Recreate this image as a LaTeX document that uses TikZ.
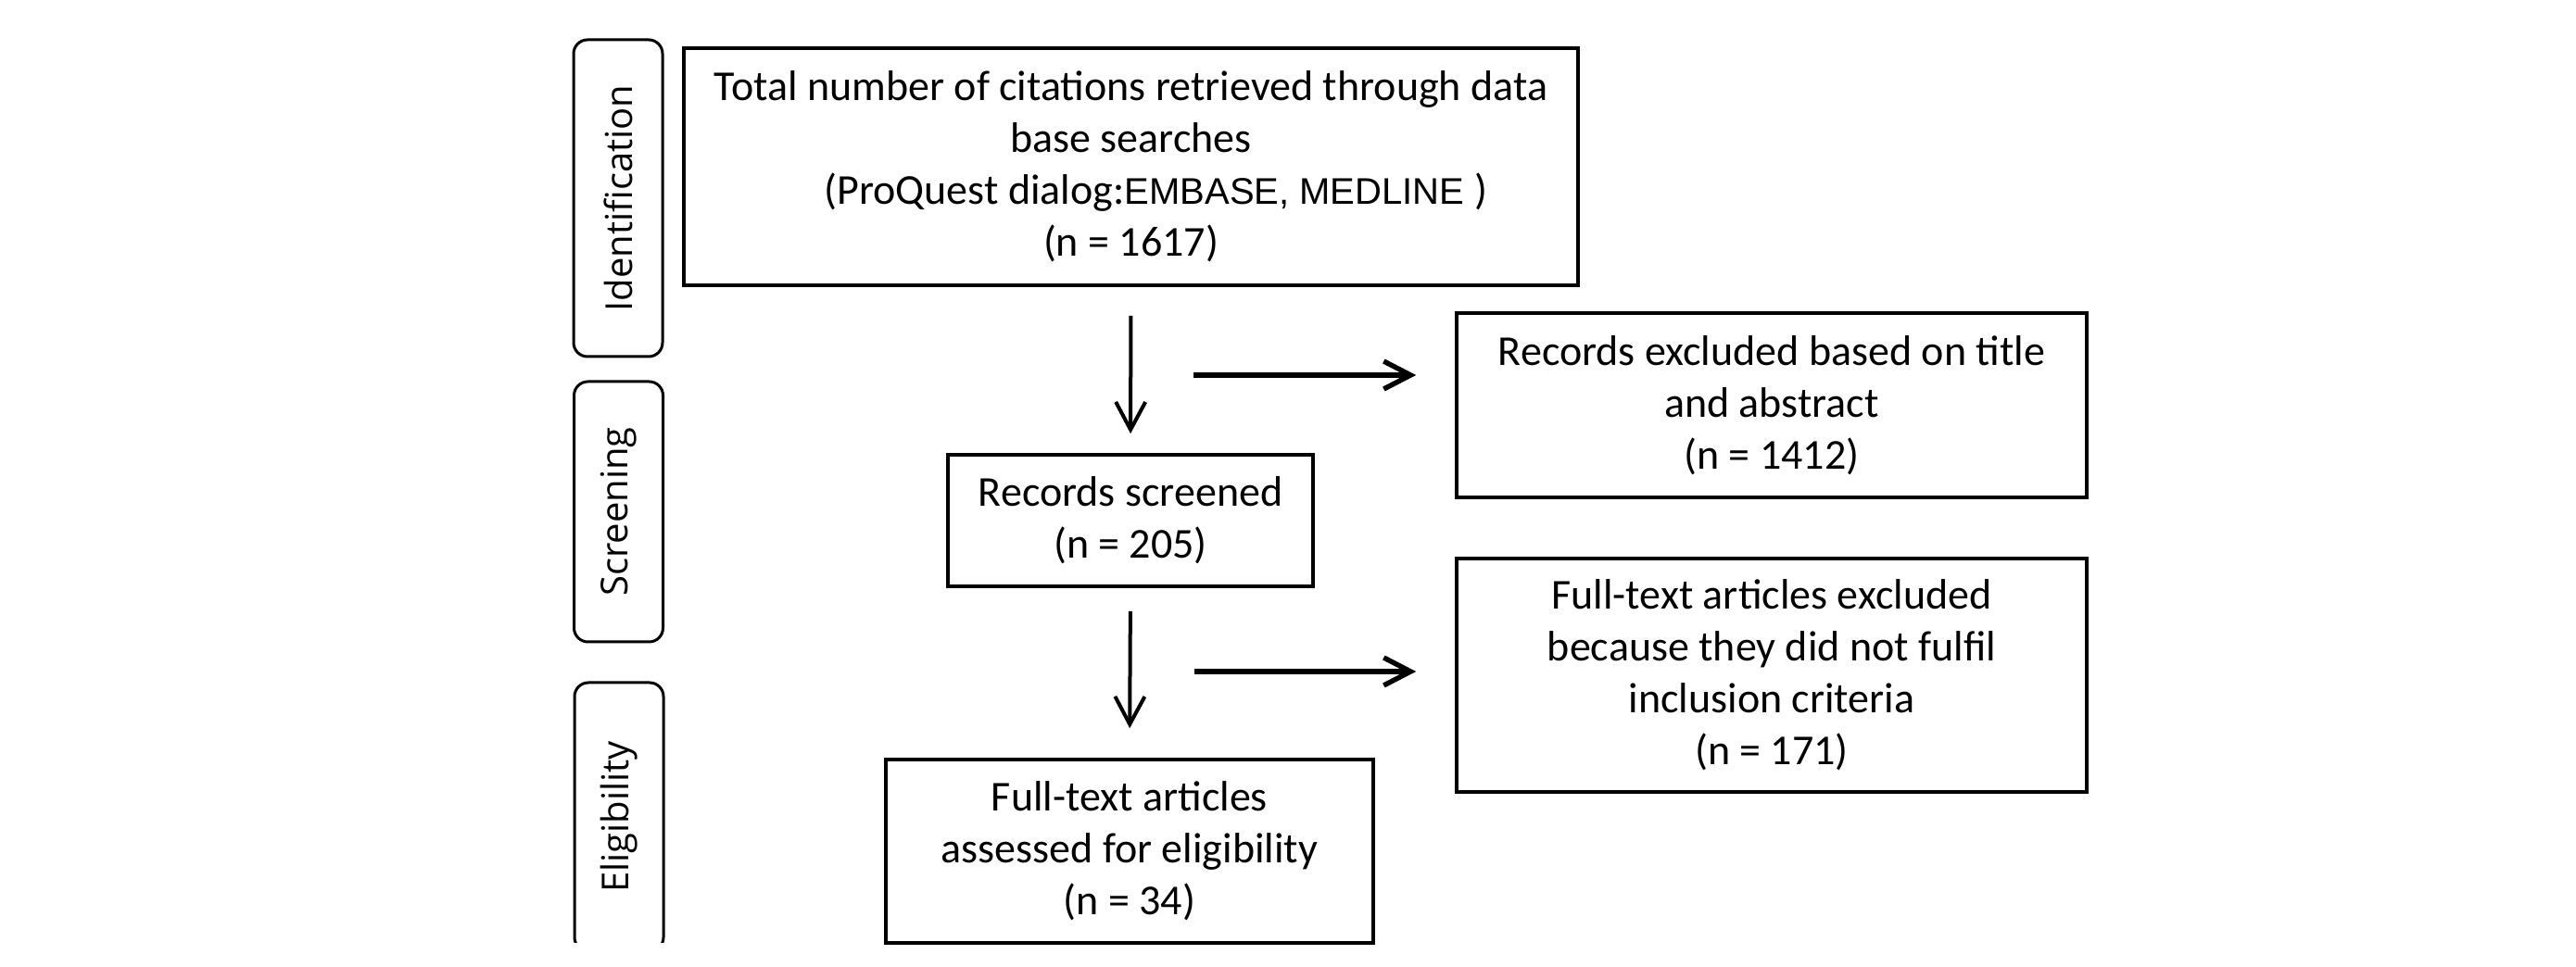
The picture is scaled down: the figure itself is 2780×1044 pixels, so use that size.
\documentclass[tikz,border=0pt]{standalone}
\usepackage{fontspec}
\setmainfont{Carlito}
\newfontfamily\labelfont{Open Sans}
\newfontfamily\arialfont{Liberation Sans}
\usetikzlibrary{arrows.meta}
\begin{document}
\begin{tikzpicture}[x=0.25pt,y=-0.25pt,
  box/.style={draw, line width=0.9pt, inner sep=0pt, align=center, font=\fontsize{11.5}{14}\selectfont},
  phase/.style={draw, line width=0.75pt, rounded corners=3.75pt, inner sep=0pt, rotate=90, minimum height=24pt, font=\labelfont\fontsize{10}{12}\selectfont},
  downarrow/.style={line width=1pt, -{Straight Barb[length=7.5pt,width=8pt]}},
  sidearrow/.style={line width=1.35pt, -{Straight Barb[length=7.25pt,width=7.5pt]}},
]
\useasboundingbox (0,0) rectangle (2780,1044);
\fill[white] (0,0) rectangle (2780,1044);

% phase labels
\node[phase, minimum width=85.5pt] (ident) at (667,214) {Identification};
\node[phase, minimum width=70.25pt] (screen) at (667.5,552.5) {Screening};
\begin{scope}
  \clip (0,0) rectangle (2780,1018);
  \node[phase, minimum width=72.5pt] (elig) at (668,882) {Eligibility};
\end{scope}

% boxes
\node[box, minimum width=241.25pt, minimum height=64pt] (total) at (1220.5,180)
  {Total number of citations retrieved through data\\
   base searches\\
   \hspace*{13.5pt}(ProQuest dialog:{\arialfont\fontsize{10}{14}\selectfont EMBASE, MEDLINE })\\
   (n = 1617)};
\node[box, minimum width=170pt, minimum height=49.75pt] (rexcl) at (1912,437.5)
  {Records excluded based on title\\ and abstract\\ (n = 1412)};
\node[box, minimum width=98.5pt, minimum height=35.5pt] (screened) at (1220,562)
  {Records screened\\ (n = 205)};
\node[box, minimum width=170pt, minimum height=63pt] (fexcl) at (1912,729)
  {Full-text articles excluded\\ because they did not fulfil\\ inclusion criteria\\ (n = 171)};
\node[box, minimum width=131.5pt, minimum height=49.5pt] (assessed) at (1219,919)
  {Full-text articles\\ assessed for eligibility\\ (n = 34)};

% arrows
\draw[downarrow, shorten <=7.75pt, shorten >=5.25pt] (total.south) -- (screened.north);
\draw[downarrow, shorten <=6.25pt, shorten >=8pt] (screened.south) -- (assessed.north);
\coordinate (r1) at (1288,405);
\coordinate (r2) at (1289,725);
\draw[sidearrow, shorten >=10.5pt] (r1) -- (r1 -| rexcl.west);
\draw[sidearrow, shorten >=10.5pt] (r2) -- (r2 -| fexcl.west);
\end{tikzpicture}
\end{document}
